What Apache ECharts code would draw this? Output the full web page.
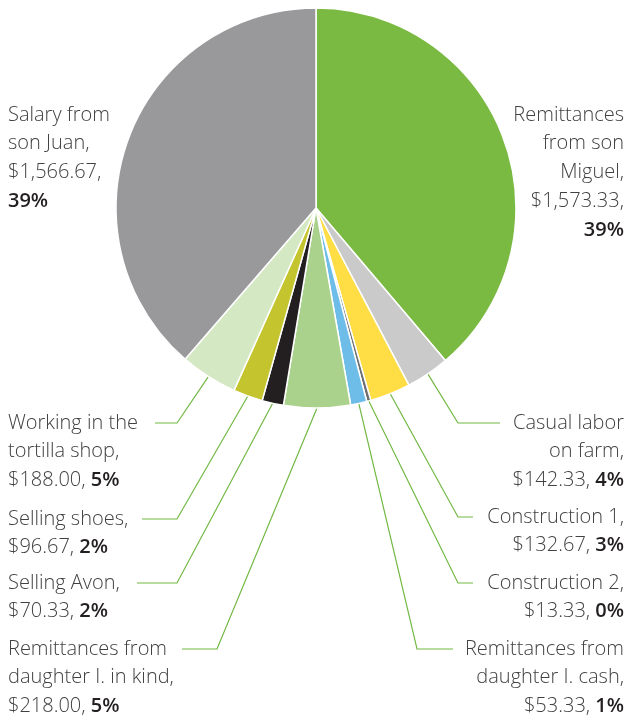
<!DOCTYPE html>
<html><head><meta charset="utf-8">
<script src="https://cdn.jsdelivr.net/npm/echarts@6/dist/echarts.min.js"></script>
<style>html,body{margin:0;padding:0;background:#fff}#c{width:626px;height:720px}</style>
</head><body><div id="c"></div>
<script>
// ---- data ----
const categories = ['Remittances from son Miguel', 'Casual labor on farm', 'Construction 1', 'Construction 2',
  'Remittances from daughter I. cash', 'Remittances from daughter I. in kind', 'Selling Avon',
  'Selling shoes', 'Working in the tortilla shop', 'Salary from son Juan'];
const values = [1573.33, 142.33, 132.67, 13.33, 53.33, 218.00, 70.33, 96.67, 188.00, 1566.67];
const labelTexts = ['Remittances\nfrom son\nMiguel,', 'Casual labor\non farm,', 'Construction 1,', 'Construction 2,',
  'Remittances from\ndaughter I. cash,', 'Remittances from\ndaughter I. in kind,', 'Selling Avon,',
  'Selling shoes,', 'Working in the\ntortilla shop,', 'Salary from\nson Juan,'];
const pctOwnLine = [true, false, false, false, false, false, false, false, false, true];

// ---- styling / layout ----
const colors = ['#7aba43', '#cbcacb', '#fedd45', '#6d6e70', '#6dbde8', '#aad28c', '#231f20', '#c3c42e', '#d4e8c3', '#99989b'];
const LH = 28.7;
// label anchor: x, first-line center y, align, leader elbow x, leader end x
const labelLayoutCfg = [
  {x: 624, y: 115, align: 'right'},
  {x: 624, y: 423, align: 'right', ex: 458, hx: 500},
  {x: 624, y: 517, align: 'right', ex: 458, hx: 473},
  {x: 624, y: 583, align: 'right', ex: 458, hx: 473},
  {x: 624, y: 649, align: 'right', ex: 417, hx: 453},
  {x: 8, y: 649, align: 'left', ex: 217, hx: 182},
  {x: 8, y: 583, align: 'left', ex: 177, hx: 137},
  {x: 8, y: 519, align: 'left', ex: 177, hx: 142},
  {x: 8, y: 423, align: 'left', ex: 177, hx: 155},
  {x: 8, y: 115, align: 'left'}
];

const total = values.reduce((a, b) => a + b, 0);
const fmtMoney = v => '$' + v.toLocaleString('en-US', {minimumFractionDigits: 2, maximumFractionDigits: 2});

const chart = echarts.init(document.getElementById('c'), null, {renderer: 'canvas'});
const FONT = '"Open Sans", "Noto Sans", sans-serif';

chart.setOption({
  animation: false,
  series: [{
    type: 'pie',
    center: [316, 208],
    radius: 200,
    startAngle: 90,
    clockwise: true,
    avoidLabelOverlap: false,
    itemStyle: {borderColor: '#fff', borderWidth: 1.5},
    label: {
      show: true,
      position: 'outside',
      formatter: p => {
        const i = p.dataIndex;
        const lines = labelTexts[i].split('\n').map(s => '{t|' + s + '}');
        const pct = Math.round(values[i] / total * 100) + '%';
        if (pctOwnLine[i]) {
          lines.push('{t|' + fmtMoney(values[i]) + ',}');
          lines.push('{b|' + pct + '}');
        } else {
          lines.push('{t|' + fmtMoney(values[i]) + ', }{b|' + pct + '}');
        }
        return lines.join('\n');
      },
      rich: {
        t: {fontSize: 20, lineHeight: LH, color: '#414042', fontFamily: FONT, fontWeight: 300},
        b: {fontSize: 20, lineHeight: LH, color: '#231f20', fontFamily: FONT, fontWeight: 600}
      }
    },
    labelLine: {show: true, length: 10, length2: 10, lineStyle: {color: '#72b843', width: 1.2}},
    labelLayout: params => {
      const c = labelLayoutCfg[params.dataIndex];
      const res = {x: c.x, y: c.y - LH / 2, align: c.align, verticalAlign: 'top'};
      if (c.ex !== undefined && params.labelLinePoints) {
        const s = params.labelLinePoints[0];
        res.labelLinePoints = [[s[0], s[1]], [c.ex, c.y], [c.hx, c.y]];
      }
      return res;
    },
    emphasis: {disabled: true},
    data: categories.map((n, i) => ({
      name: n, value: values[i],
      itemStyle: {color: colors[i]},
      labelLine: {show: labelLayoutCfg[i].ex !== undefined}
    }))
  }]
});
</script>
</body></html>
